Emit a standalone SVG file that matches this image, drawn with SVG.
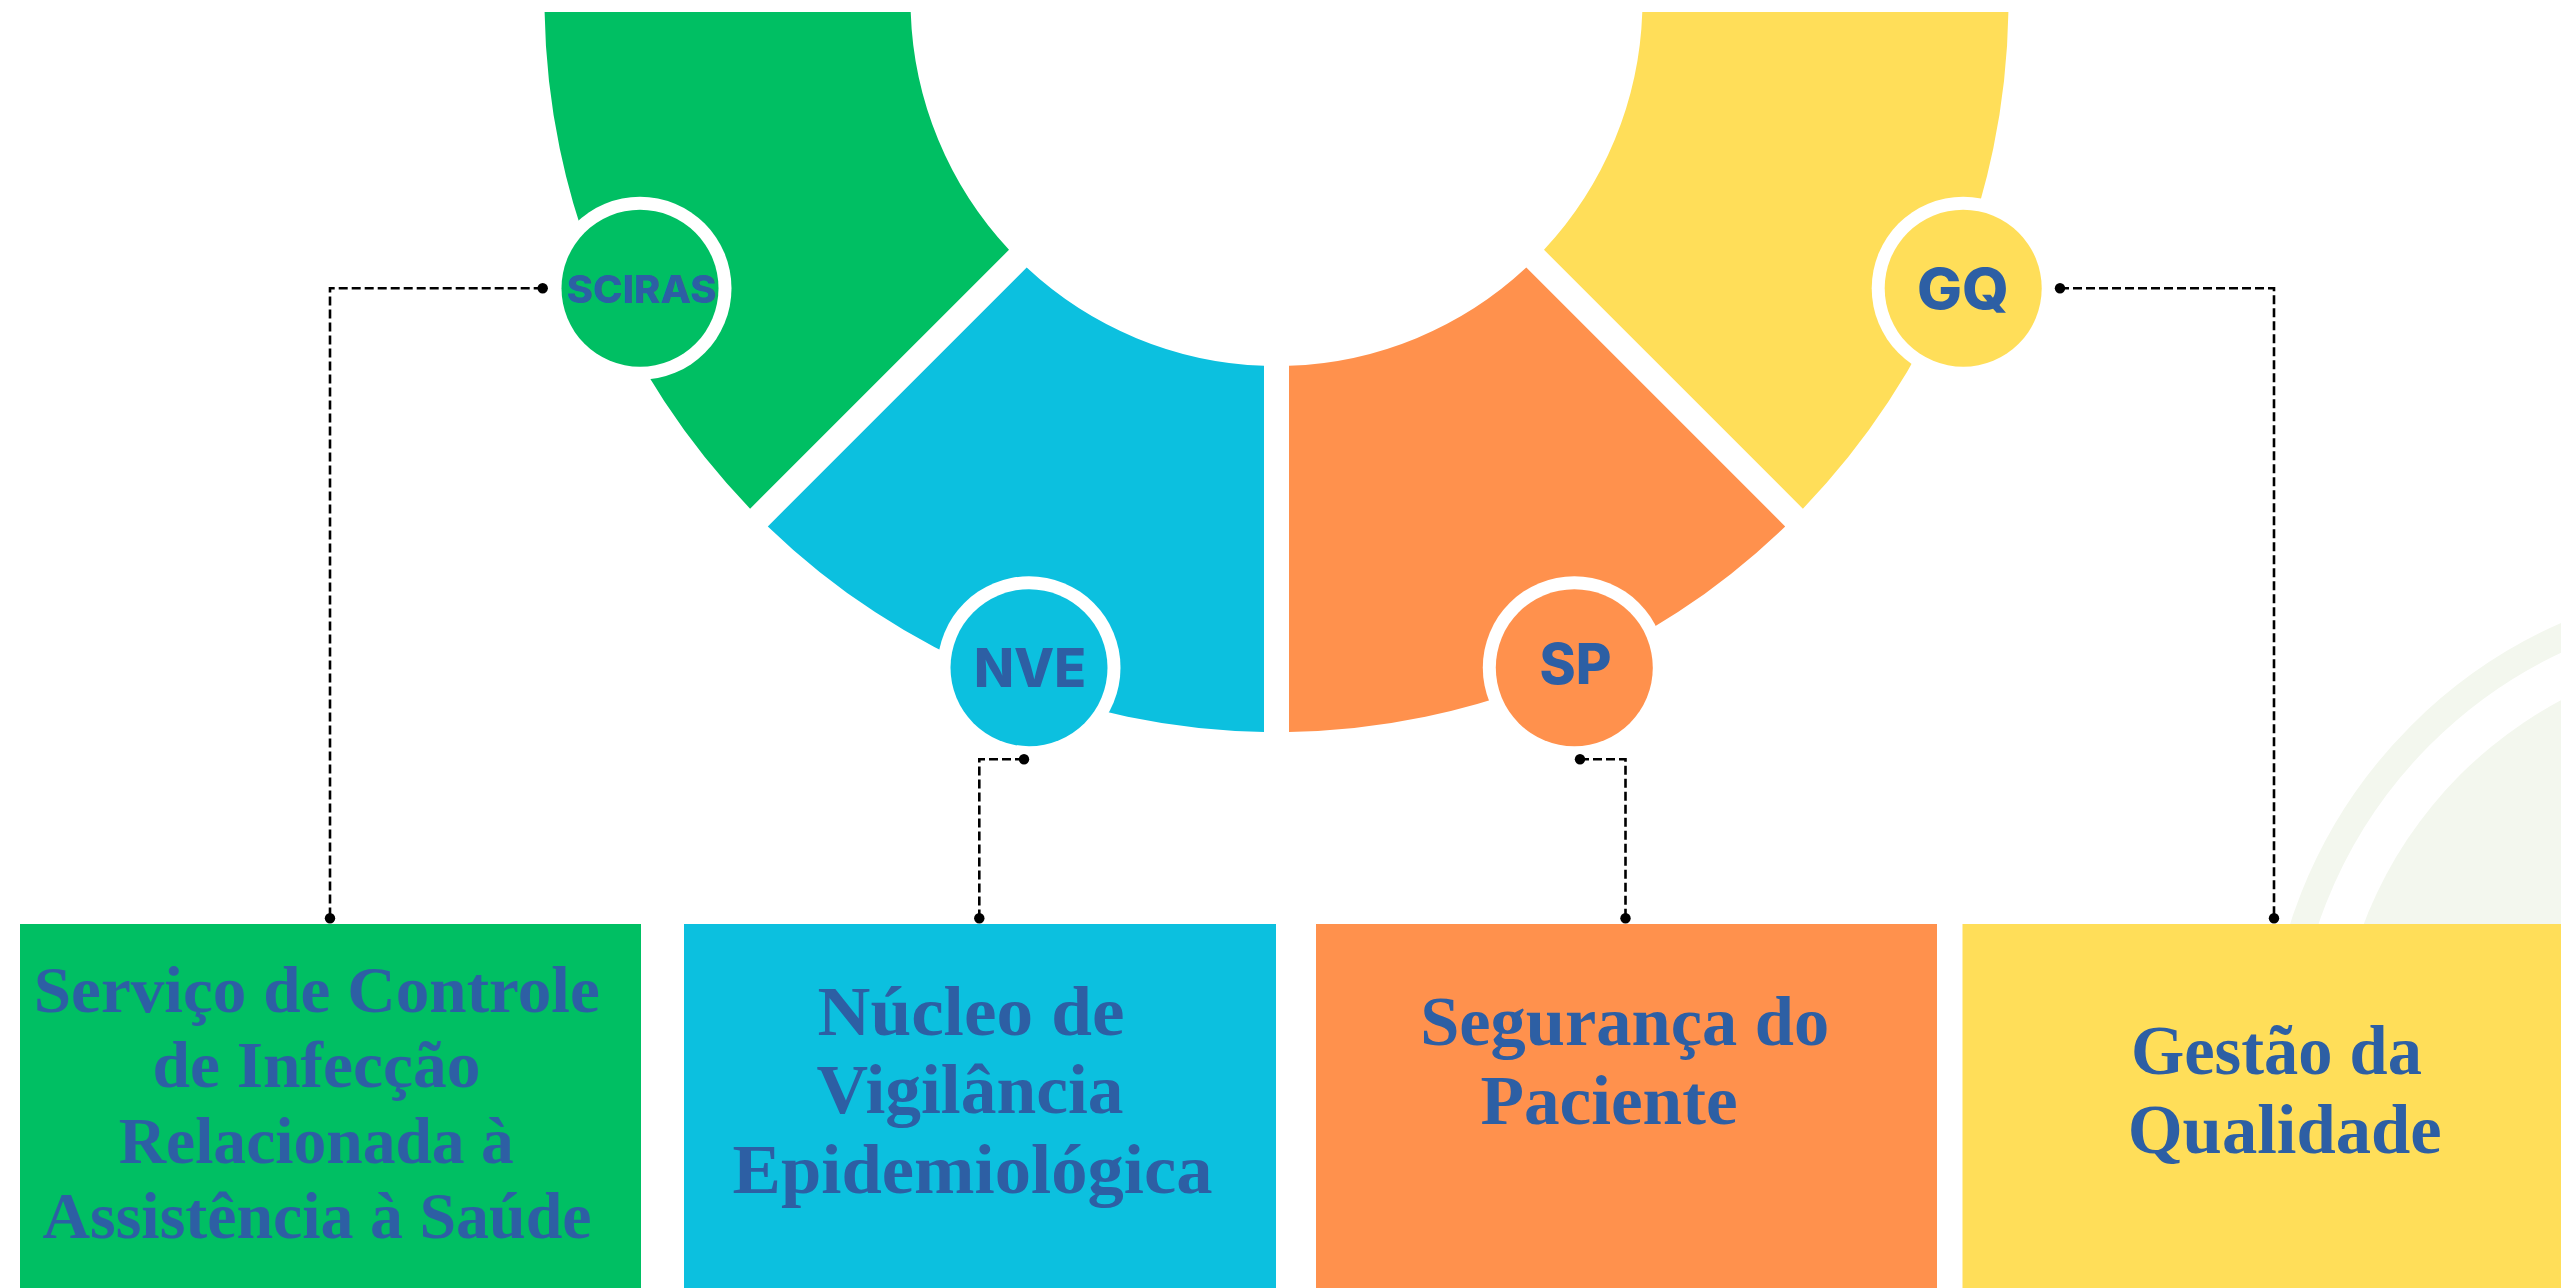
<svg xmlns="http://www.w3.org/2000/svg" width="2561" height="1288" viewBox="0 0 2561 1288">
  <style>
    .green{fill:#00BF63}
    .blue{fill:#0CC0DF}
    .orange{fill:#FF914D}
    .yellow{fill:#FFDE59}
    .ring{fill:#FFFFFF}
    .badge{font-family:Inter,"Open Sans","Liberation Sans",sans-serif;font-weight:800;fill:#2D5FA4;text-anchor:middle}
    .label{font-family:"Liberation Serif","Times New Roman",serif;font-weight:700;fill:#2D5FA4;text-anchor:middle}
    .conn{fill:none;stroke:#000000;stroke-width:2.6;stroke-dasharray:9 4}
    .dot{fill:#000000}
    .deco{fill:#F3F7EE}
  </style>

  <rect width="2561" height="1288" fill="#FFFFFF"/>

  <g id="background-decoration">
    <circle class="deco" cx="2759.6" cy="1074.3" r="423.5"/>
    <circle cx="2759.6" cy="1074.3" r="479.5" fill="none" stroke="#F3F7EE" stroke-width="27"/>
  </g>

  <g id="ring">
    <path id="seg-sciras" class="green" d="M 544.6 12 A 732 732 0 0 0 750.1 508.7 L 1009 249.8 A 366 366 0 0 1 910.7 12 Z"/>
    <path id="seg-nve" class="blue" d="M 767.8 526.4 A 732 732 0 0 0 1264 731.9 L 1264 365.8 A 366 366 0 0 1 1026.7 267.5 Z"/>
    <path id="seg-sp" class="orange" d="M 1289 731.9 A 732 732 0 0 0 1785.2 526.4 L 1526.3 267.5 A 366 366 0 0 1 1289 365.8 Z"/>
    <path id="seg-gq" class="yellow" d="M 1802.9 508.7 A 732 732 0 0 0 2008.4 12 L 1642.3 12 A 366 366 0 0 1 1544 249.8 Z"/>
  </g>

  <g id="badge-sciras">
    <circle class="ring" cx="640" cy="288.3" r="91.5"/>
    <circle class="green" cx="640" cy="288.3" r="78.5"/>
    <text class="badge" x="641.7" y="303.3" font-size="38.5" textLength="150" lengthAdjust="spacingAndGlyphs">SCIRAS</text>
  </g>
  <g id="badge-nve">
    <circle class="ring" cx="1029" cy="667.7" r="91.5"/>
    <circle class="blue" cx="1029" cy="667.7" r="78.5"/>
    <text class="badge" x="1030" y="686.7" font-size="53" textLength="112" lengthAdjust="spacingAndGlyphs">NVE</text>
  </g>
  <g id="badge-sp">
    <circle class="ring" cx="1574.3" cy="667.7" r="91.5"/>
    <circle class="orange" cx="1574.3" cy="667.7" r="78.5"/>
    <text class="badge" x="1575.5" y="684" font-size="56" textLength="72" lengthAdjust="spacingAndGlyphs">SP</text>
  </g>
  <g id="badge-gq">
    <circle class="ring" cx="1963.2" cy="288.3" r="91.5"/>
    <circle class="yellow" cx="1963.2" cy="288.3" r="78.5"/>
    <text class="badge" x="1963" y="308.5" font-size="56" textLength="92" lengthAdjust="spacingAndGlyphs">GQ</text>
  </g>

  <g id="connectors">
    <path class="conn" d="M 542.7 288.3 H 330 V 918.3"/>
    <circle class="dot" cx="542.7" cy="288.3" r="5.2"/>
    <circle class="dot" cx="330" cy="918.3" r="5.2"/>
    <path class="conn" d="M 1024 759.3 H 979.3 V 918.3"/>
    <circle class="dot" cx="1024" cy="759.3" r="5.2"/>
    <circle class="dot" cx="979.3" cy="918.3" r="5.2"/>
    <path class="conn" d="M 1580 759.3 H 1625.5 V 918.3"/>
    <circle class="dot" cx="1580" cy="759.3" r="5.2"/>
    <circle class="dot" cx="1625.5" cy="918.3" r="5.2"/>
    <path class="conn" d="M 2060 288.3 H 2274 V 918.3"/>
    <circle class="dot" cx="2060" cy="288.3" r="5.2"/>
    <circle class="dot" cx="2274" cy="918.3" r="5.2"/>
  </g>

  <g id="box-sciras">
    <rect class="green" x="20" y="924" width="621" height="364"/>
    <text class="label" font-size="66">
      <tspan x="325" y="1011.7" textLength="566" lengthAdjust="spacingAndGlyphs">Serviço de Controle</tspan>
      <tspan x="324.7" y="1086.7" textLength="328" lengthAdjust="spacingAndGlyphs">de Infecção</tspan>
      <tspan x="324.5" y="1163.3" textLength="395" lengthAdjust="spacingAndGlyphs">Relacionada à</tspan>
      <tspan x="317" y="1238.3" textLength="549" lengthAdjust="spacingAndGlyphs">Assistência à Saúde</tspan>
    </text>
  </g>
  <g id="box-nve">
    <rect class="blue" x="684" y="924" width="592" height="364"/>
    <text class="label" font-size="69">
      <tspan x="979.7" y="1035" textLength="307" lengthAdjust="spacingAndGlyphs">Núcleo de</tspan>
      <tspan x="978.6" y="1113.3" textLength="307" lengthAdjust="spacingAndGlyphs">Vigilância</tspan>
      <tspan x="972.5" y="1192.7" textLength="480" lengthAdjust="spacingAndGlyphs">Epidemiológica</tspan>
    </text>
  </g>
  <g id="box-sp">
    <rect class="orange" x="1316" y="924" width="621" height="364"/>
    <text class="label" font-size="69">
      <tspan x="1633.3" y="1045" textLength="409" lengthAdjust="spacingAndGlyphs">Segurança do</tspan>
      <tspan x="1609" y="1124" textLength="257" lengthAdjust="spacingAndGlyphs">Paciente</tspan>
    </text>
  </g>
  <g id="box-gq">
    <rect class="yellow" x="1962.5" y="924" width="598.5" height="364"/>
    <text class="label" font-size="69">
      <tspan x="2285" y="1074" textLength="291" lengthAdjust="spacingAndGlyphs">Gestão da</tspan>
      <tspan x="2284.7" y="1153.3" textLength="314" lengthAdjust="spacingAndGlyphs">Qualidade</tspan>
    </text>
  </g>
</svg>
